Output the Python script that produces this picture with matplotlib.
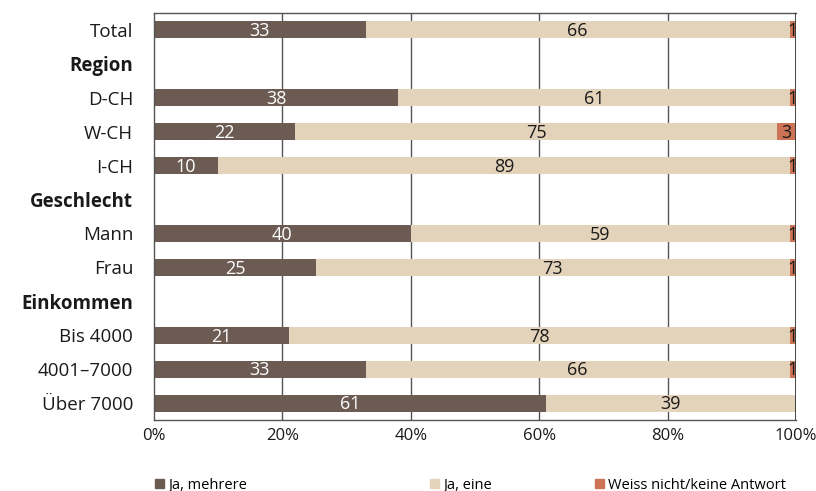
import matplotlib.pyplot as plt
import numpy as np

plt.rcParams["font.family"] = ["Open Sans", "DejaVu Sans"]

# Row labels (top to bottom); group headers carry no bars
labels = ["Total", "Region", "D-CH", "W-CH", "I-CH", "Geschlecht", "Mann", "Frau",
          "Einkommen", "Bis 4000", "4001–7000", "Über 7000"]
headers = ["Region", "Geschlecht", "Einkommen"]
mehrere = [33, None, 38, 22, 10, None, 40, 25, None, 21, 33, 61]
eine = [66, None, 61, 75, 89, None, 59, 73, None, 78, 66, 39]
weiss = [1, None, 1, 3, 1, None, 1, 1, None, 1, 1, 0]

series_names = ["Ja, mehrere", "Ja, eine", "Weiss nicht/keine Antwort"]
colors = ["#6b5b53", "#e4d3bb", "#cd7457"]
text_colors = ["white", "#1a1a1a", "#1a1a1a"]

fig = plt.figure(figsize=(8.16, 4.91), dpi=100)
ax = fig.add_axes([0.1887, 0.1446, 0.7868, 0.829])

y = np.arange(len(labels))
series = [mehrere, eine, weiss]
arr = [np.array([0 if x is None else x for x in s], dtype=float) for s in series]
row_tot = arr[0] + arr[1] + arr[2]
row_tot[row_tot == 0] = 1

# vertical grid lines behind bars
for gx in [20, 40, 60, 80]:
    ax.axvline(gx, color="#555555", lw=1.0, zorder=0)
ax.axvline(100, color="#333333", lw=2.0, zorder=3)

# 100% stacked: each row scaled to its own total
left = np.zeros(len(labels))
for vals, v, col, tcol in zip(series, arr, colors, text_colors):
    w = v / row_tot * 100
    ax.barh(y, w, left=left, height=0.5, color=col, zorder=2)
    for i, val in enumerate(vals):
        if val:
            ax.text(left[i] + w[i] / 2, y[i] + 0.04, str(val), ha="center", va="center",
                    fontsize=13, color=tcol, zorder=4)
    left = left + w

ax.set_xlim(0, 100)
ax.set_ylim(len(labels) - 0.5, -0.5)
ax.set_xticks([0, 20, 40, 60, 80, 100])
ax.set_xticklabels(["0%", "20%", "40%", "60%", "80%", "100%"], fontsize=12, color="#1a1a1a")
ax.set_yticks(y)
ax.set_yticklabels(labels, fontsize=13.5, color="#1a1a1a")
for t in ax.get_yticklabels():
    if t.get_text() in headers:
        t.set_fontweight("bold")
ax.tick_params(axis="y", length=0, pad=15)
ax.tick_params(axis="x", length=0, pad=6)
for s in ["left", "top", "bottom"]:
    ax.spines[s].set_color("#555555")
    ax.spines[s].set_linewidth(1.0)
ax.spines["right"].set_visible(False)

# legend entries spread along the bottom
legend_x = [0.19, 0.527, 0.729]
for name, col, lx in zip(series_names, colors, legend_x):
    h = plt.Rectangle((0, 0), 1, 1, color=col)
    fig.legend([h], [name], loc="center left", bbox_to_anchor=(lx, 0.012), frameon=False,
               fontsize=10.5, handlelength=0.6, handleheight=0.6, handletextpad=0.3,
               borderpad=0, borderaxespad=0)

fig.savefig("out.png", dpi=100)
